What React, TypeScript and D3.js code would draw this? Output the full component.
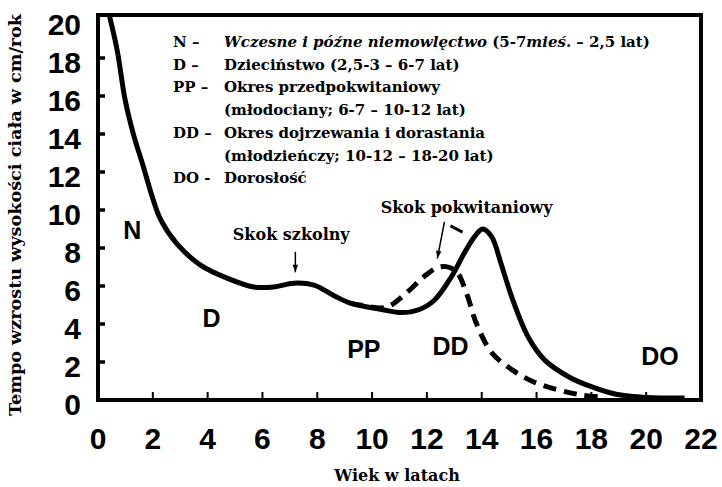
import React, { useEffect, useRef } from "react";
import * as d3 from "d3";

// chłopcy (linia ciągła)
const boyAges = [0.42, 0.7, 0.99, 1.28, 1.65, 2.0, 2.3, 2.89, 3.74, 4.73, 5.68, 6.41, 7.14, 7.88, 8.6, 9.2, 10.4, 11.06, 11.7, 12.27, 12.9, 13.37, 13.74, 14.03, 14.36, 14.7, 15.1, 15.7, 16.3, 17.2, 18.0, 18.9, 19.85, 21.4];
const boyVel = [20.2, 18.4, 15.8, 14.05, 12.3, 10.6, 9.45, 8.2, 7.1, 6.4, 5.95, 5.95, 6.15, 6.05, 5.5, 5.1, 4.75, 4.6, 4.75, 5.25, 6.5, 7.75, 8.6, 9.0, 8.6, 7.2, 5.4, 3.3, 2.1, 1.2, 0.7, 0.3, 0.15, 0.1];

// dziewczęta (linia przerywana)
const girlAges = [9.2, 10.4, 10.7, 11.3, 11.9, 12.35, 12.7, 13.08, 13.45, 13.8, 14.36, 15.1, 15.9, 16.8, 17.66, 18.4];
const girlVel = [5.1, 4.85, 5.0, 5.7, 6.5, 6.95, 7.02, 6.75, 5.6, 4.05, 2.5, 1.6, 0.95, 0.53, 0.26, 0.15];

const xTicks = [0, 2, 4, 6, 8, 10, 12, 14, 16, 18, 20, 22];
const yTicks = [0, 2, 4, 6, 8, 10, 12, 14, 16, 18, 20];

const legendKeys = ["N –", "D –", "PP –", "", "DD –", "", "DO -"];
const legendTexts = [
  "Wczesne i późne niemowlęctwo (5-7mieś. – 2,5 lat)",
  "Dzieciństwo (2,5-3 – 6-7 lat)",
  "Okres przedpokwitaniowy",
  "(młodociany; 6-7 – 10-12 lat)",
  "Okres dojrzewania i dorastania",
  "(młodzieńczy; 10-12 – 18-20 lat)",
  "Dorosłość",
];
const italicParts = ["Wczesne i późne niemowlęctwo", "mieś."];

const regionLabels = ["N", "D", "PP", "DD", "DO"];
const regionAge = [1.25, 4.14, 9.7, 12.86, 20.5];
const regionVel = [8.5, 3.84, 2.2, 2.37, 1.84];

const serif = "'DejaVu Serif', 'Liberation Serif', serif";
const sans = "'Liberation Sans', Arial, sans-serif";

export default function App() {
  const ref = useRef<SVGSVGElement>(null);

  useEffect(() => {
    const svg = d3.select(ref.current);
    svg.selectAll("*").remove();

    const x = d3.scaleLinear().domain([0, 22]).range([98, 701]);
    const y = d3.scaleLinear().domain([0, 20]).range([400, 20]);
    const top = 15;

    svg.append("rect").attr("width", 722).attr("height", 487).attr("fill", "#fff");

    svg.append("defs").append("clipPath").attr("id", "plot")
      .append("rect")
      .attr("x", x(0)).attr("y", top)
      .attr("width", x(22) - x(0)).attr("height", y(0) - top);

    // ramka
    svg.append("rect")
      .attr("x", x(0)).attr("y", top)
      .attr("width", x(22) - x(0)).attr("height", y(0) - top)
      .attr("fill", "none").attr("stroke", "#000").attr("stroke-width", 4);

    svg.append("g").selectAll("line")
      .data(yTicks.filter(d => d > 0 && d < 20))
      .join("line")
      .attr("x1", x(0)).attr("x2", x(0) + 7)
      .attr("y1", d => y(d)).attr("y2", d => y(d))
      .attr("stroke", "#000").attr("stroke-width", 3.5);

    svg.append("g").selectAll("line")
      .data(xTicks.filter(d => d > 0 && d < 22))
      .join("line")
      .attr("x1", d => x(d)).attr("x2", d => x(d))
      .attr("y1", y(0)).attr("y2", y(0) - 8)
      .attr("stroke", "#000").attr("stroke-width", 2);

    svg.append("g").selectAll("text")
      .data(yTicks)
      .join("text")
      .attr("x", 81).attr("y", d => y(d) + 4)
      .attr("dy", "0.36em")
      .attr("text-anchor", "end")
      .style("font-family", sans).style("font-weight", "bold").style("font-size", "30px")
      .text(d => d);

    svg.append("g").selectAll("text")
      .data(xTicks)
      .join("text")
      .attr("x", d => x(d)).attr("y", 449)
      .attr("text-anchor", "middle")
      .style("font-family", sans).style("font-weight", "bold").style("font-size", "30px")
      .text(d => d);

    // tytuły osi
    svg.append("text")
      .attr("transform", "translate(21,215) rotate(-90)")
      .attr("text-anchor", "middle")
      .attr("textLength", 402).attr("lengthAdjust", "spacingAndGlyphs")
      .style("font-family", serif).style("font-weight", "bold").style("font-size", "16px")
      .text("Tempo wzrostu wysokości ciała w cm/rok");

    svg.append("text")
      .attr("x", 397).attr("y", 481)
      .attr("text-anchor", "middle")
      .style("font-family", serif).style("font-weight", "bold").style("font-size", "16px")
      .text("Wiek w latach");

    // krzywe
    const line = d3.line<[number, number]>()
      .curve(d3.curveCatmullRom.alpha(0.5))
      .x(d => x(d[0])).y(d => y(d[1]));

    const plot = svg.append("g").attr("clip-path", "url(#plot)");
    plot.append("path")
      .datum(girlAges.map((a, i) => [a, girlVel[i]] as [number, number]))
      .attr("d", line)
      .attr("fill", "none").attr("stroke", "#000").attr("stroke-width", 5)
      .attr("stroke-dasharray", "13 8");
    plot.append("path")
      .datum(boyAges.map((a, i) => [a, boyVel[i]] as [number, number]))
      .attr("d", line)
      .attr("fill", "none").attr("stroke", "#000").attr("stroke-width", 5)
      .attr("stroke-linejoin", "round");

    // legenda
    const leg = svg.append("g")
      .style("font-family", serif).style("font-weight", "bold").style("font-size", "15px");
    const re = new RegExp("(" + italicParts.map(p => p.replace(".", "\\.")).join("|") + ")");
    legendKeys.forEach((k, i) => {
      const yy = 47 + i * 22.7;
      if (k) leg.append("text").attr("x", 173).attr("y", yy).text(k);
      const t = leg.append("text").attr("x", 224).attr("y", yy);
      legendTexts[i].split(re).filter(s => s).forEach(s => {
        t.append("tspan").style("font-style", italicParts.includes(s) ? "italic" : "normal").text(s);
      });
    });

    // etykiety okresów
    svg.append("g").selectAll("text")
      .data(regionLabels)
      .join("text")
      .attr("x", (d, i) => x(regionAge[i])).attr("y", (d, i) => y(regionVel[i]))
      .attr("text-anchor", "middle")
      .style("font-family", sans).style("font-weight", "bold").style("font-size", "25px")
      .text(d => d);

    // adnotacje
    const ann = svg.append("g")
      .style("font-family", serif).style("font-weight", "bold").style("font-size", "16px");
    ann.append("text").attr("x", x(7.05)).attr("y", y(8.42))
      .attr("text-anchor", "middle")
      .text("Skok szkolny");
    ann.append("text").attr("x", x(13.45)).attr("y", y(9.85))
      .attr("text-anchor", "middle")
      .text("Skok pokwitaniowy");

    const arrow = (a0: number, v0: number, a1: number, v1: number, head: boolean, w: number) => {
      const x0 = x(a0), y0 = y(v0), x1 = x(a1), y1 = y(v1);
      ann.append("line").attr("x1", x0).attr("y1", y0).attr("x2", x1).attr("y2", y1)
        .attr("stroke", "#000").attr("stroke-width", w);
      if (head) {
        const ang = Math.atan2(y1 - y0, x1 - x0);
        const L = 8, s = 0.35;
        const p = [
          [x1, y1],
          [x1 - L * Math.cos(ang - s), y1 - L * Math.sin(ang - s)],
          [x1 - L * Math.cos(ang + s), y1 - L * Math.sin(ang + s)],
        ];
        ann.append("path").attr("d", "M" + p.map(q => q.join(",")).join("L") + "Z").attr("fill", "#000");
      }
    };
    arrow(7.2, 7.8, 7.2, 6.72, true, 1.5);
    arrow(12.64, 9.37, 12.38, 7.45, true, 1.5);
    arrow(12.86, 9.16, 13.3, 8.84, false, 3);
  }, []);

  return (
    <svg ref={ref} width={722} height={487}
      style={{ position: "absolute", left: 0, top: 0, background: "#fff" }} />
  );
}
